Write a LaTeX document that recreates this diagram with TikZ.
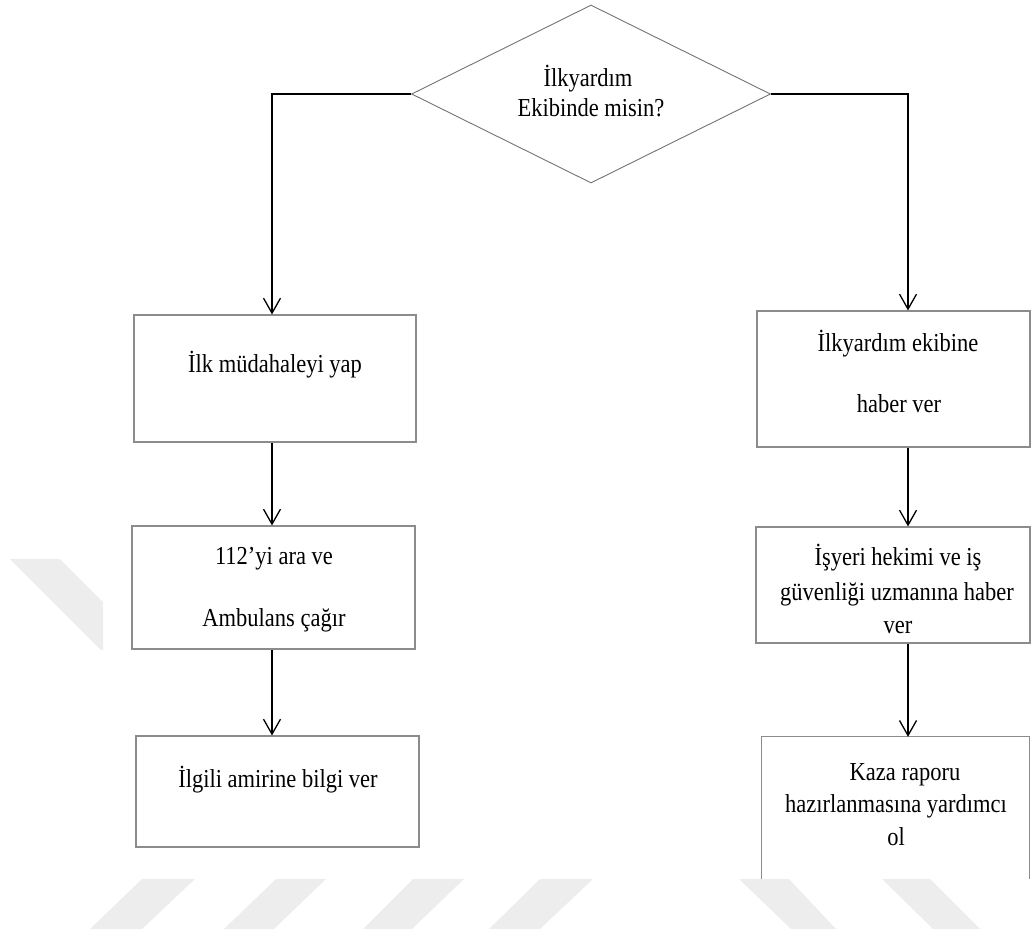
\documentclass[tikz,border=0pt]{standalone}
\usepackage{fontspec}
\usepackage{graphicx}
\setmainfont{Liberation Serif}
\usetikzlibrary{arrows.meta,shapes.geometric}
\newcommand{\tallt}[1]{\scalebox{1}[1.15]{#1}}
\begin{document}
\begin{tikzpicture}[x=1pt,y=-1pt,
  wm/.style={fill=black!7, draw=none},
  boxline/.style={draw=black!45, line width=1.1pt, rectangle, inner sep=0pt},
  conn/.style={draw=black, line width=1.3pt},
  arr/.style={conn, -{Straight Barb[length=15pt,width=17pt,line width=1.3pt]}},
  txt/.style={font=\fontsize{22.5}{26}\selectfont, anchor=base, inner sep=0pt},
  ]
\useasboundingbox (0,0) rectangle (1032,934);
% watermark stripes
\fill[wm] (10,559) -- (60,559) -- (103,602) -- (103,650) -- (101,650) -- cycle;
\fill[wm] (90,929) -- (142,929) -- (195,879) -- (142,879) -- cycle;
\fill[wm] (224,929) -- (274,929) -- (326,879) -- (276,879) -- cycle;
\fill[wm] (363,929) -- (412,929) -- (464,879) -- (413,879) -- cycle;
\fill[wm] (489,929) -- (540,929) -- (593,879) -- (540,879) -- cycle;
\fill[wm] (739,879) -- (789,879) -- (836,929) -- (791,929) -- cycle;
\fill[wm] (882,879) -- (930,879) -- (980,929) -- (933,929) -- cycle;

% decision
\node[diamond, draw=black!55, line width=0.9pt, inner sep=0pt, minimum width=359pt, minimum height=178pt] (D) at (591,94) {};
\node[txt] (D1) at (588,86) {\tallt{İlkyardım}};
\node[txt] (D2) at (591,116) {\tallt{Ekibinde misin?}};

% left column
\node[boxline, minimum width=282pt, minimum height=127pt] (L1) at (275,378.5) {};
\node[txt] (L1t) at (275,372) {\tallt{İlk müdahaleyi yap}};
\node[boxline, minimum width=283pt, minimum height=123pt] (L2) at (273.5,587.5) {};
\node[txt] (L2a) at (274,564) {\tallt{112’yi ara ve}};
\node[txt] (L2b) at (274,626) {\tallt{Ambulans çağır}};
\node[boxline, minimum width=283pt, minimum height=111pt] (L3) at (277.5,791.5) {};
\node[txt] (L3t) at (278,787) {\tallt{İlgili amirine bilgi ver}};

% right column
\node[boxline, minimum width=273pt, minimum height=136pt] (R1) at (893.5,379) {};
\node[txt] (R1a) at (898,351) {\tallt{İlkyardım ekibine}};
\node[txt] (R1b) at (899,412) {\tallt{haber ver}};
\node[boxline, minimum width=274pt, minimum height=116pt] (R2) at (893,585) {};
\node[txt] (R2a) at (898,565) {\tallt{İşyeri hekimi ve iş}};
\node[txt] (R2b) at (897,600) {\tallt{güvenliği uzmanına haber}};
\node[txt] (R2c) at (898,633) {\tallt{ver}};
\node[inner sep=0pt, minimum width=267pt, minimum height=142pt] (R3) at (895.5,808) {};
\draw[draw=black!45, line width=1.1pt] (R3.south west) -- (R3.north west) -- (R3.north east) -- (R3.south east);
\node[txt] (R3a) at (905,780) {\tallt{Kaza raporu}};
\node[txt] (R3b) at (896,812) {\tallt{hazırlanmasına yardımcı}};
\node[txt] (R3c) at (896,845) {\tallt{ol}};

% connectors
\coordinate (cL) at (272,0);
\coordinate (cR) at (908,0);
\draw[arr] (D.west) -| (L1.north -| cL);
\draw[arr] (D.east) -| (R1.north -| cR);
\draw[arr] (L1.south -| cL) -- (L2.north -| cL);
\draw[arr] (L2.south -| cL) -- (L3.north -| cL);
\draw[arr] (R1.south -| cR) -- (R2.north -| cR);
\draw[arr] (R2.south -| cR) -- (R3.north -| cR);
\end{tikzpicture}
\end{document}
